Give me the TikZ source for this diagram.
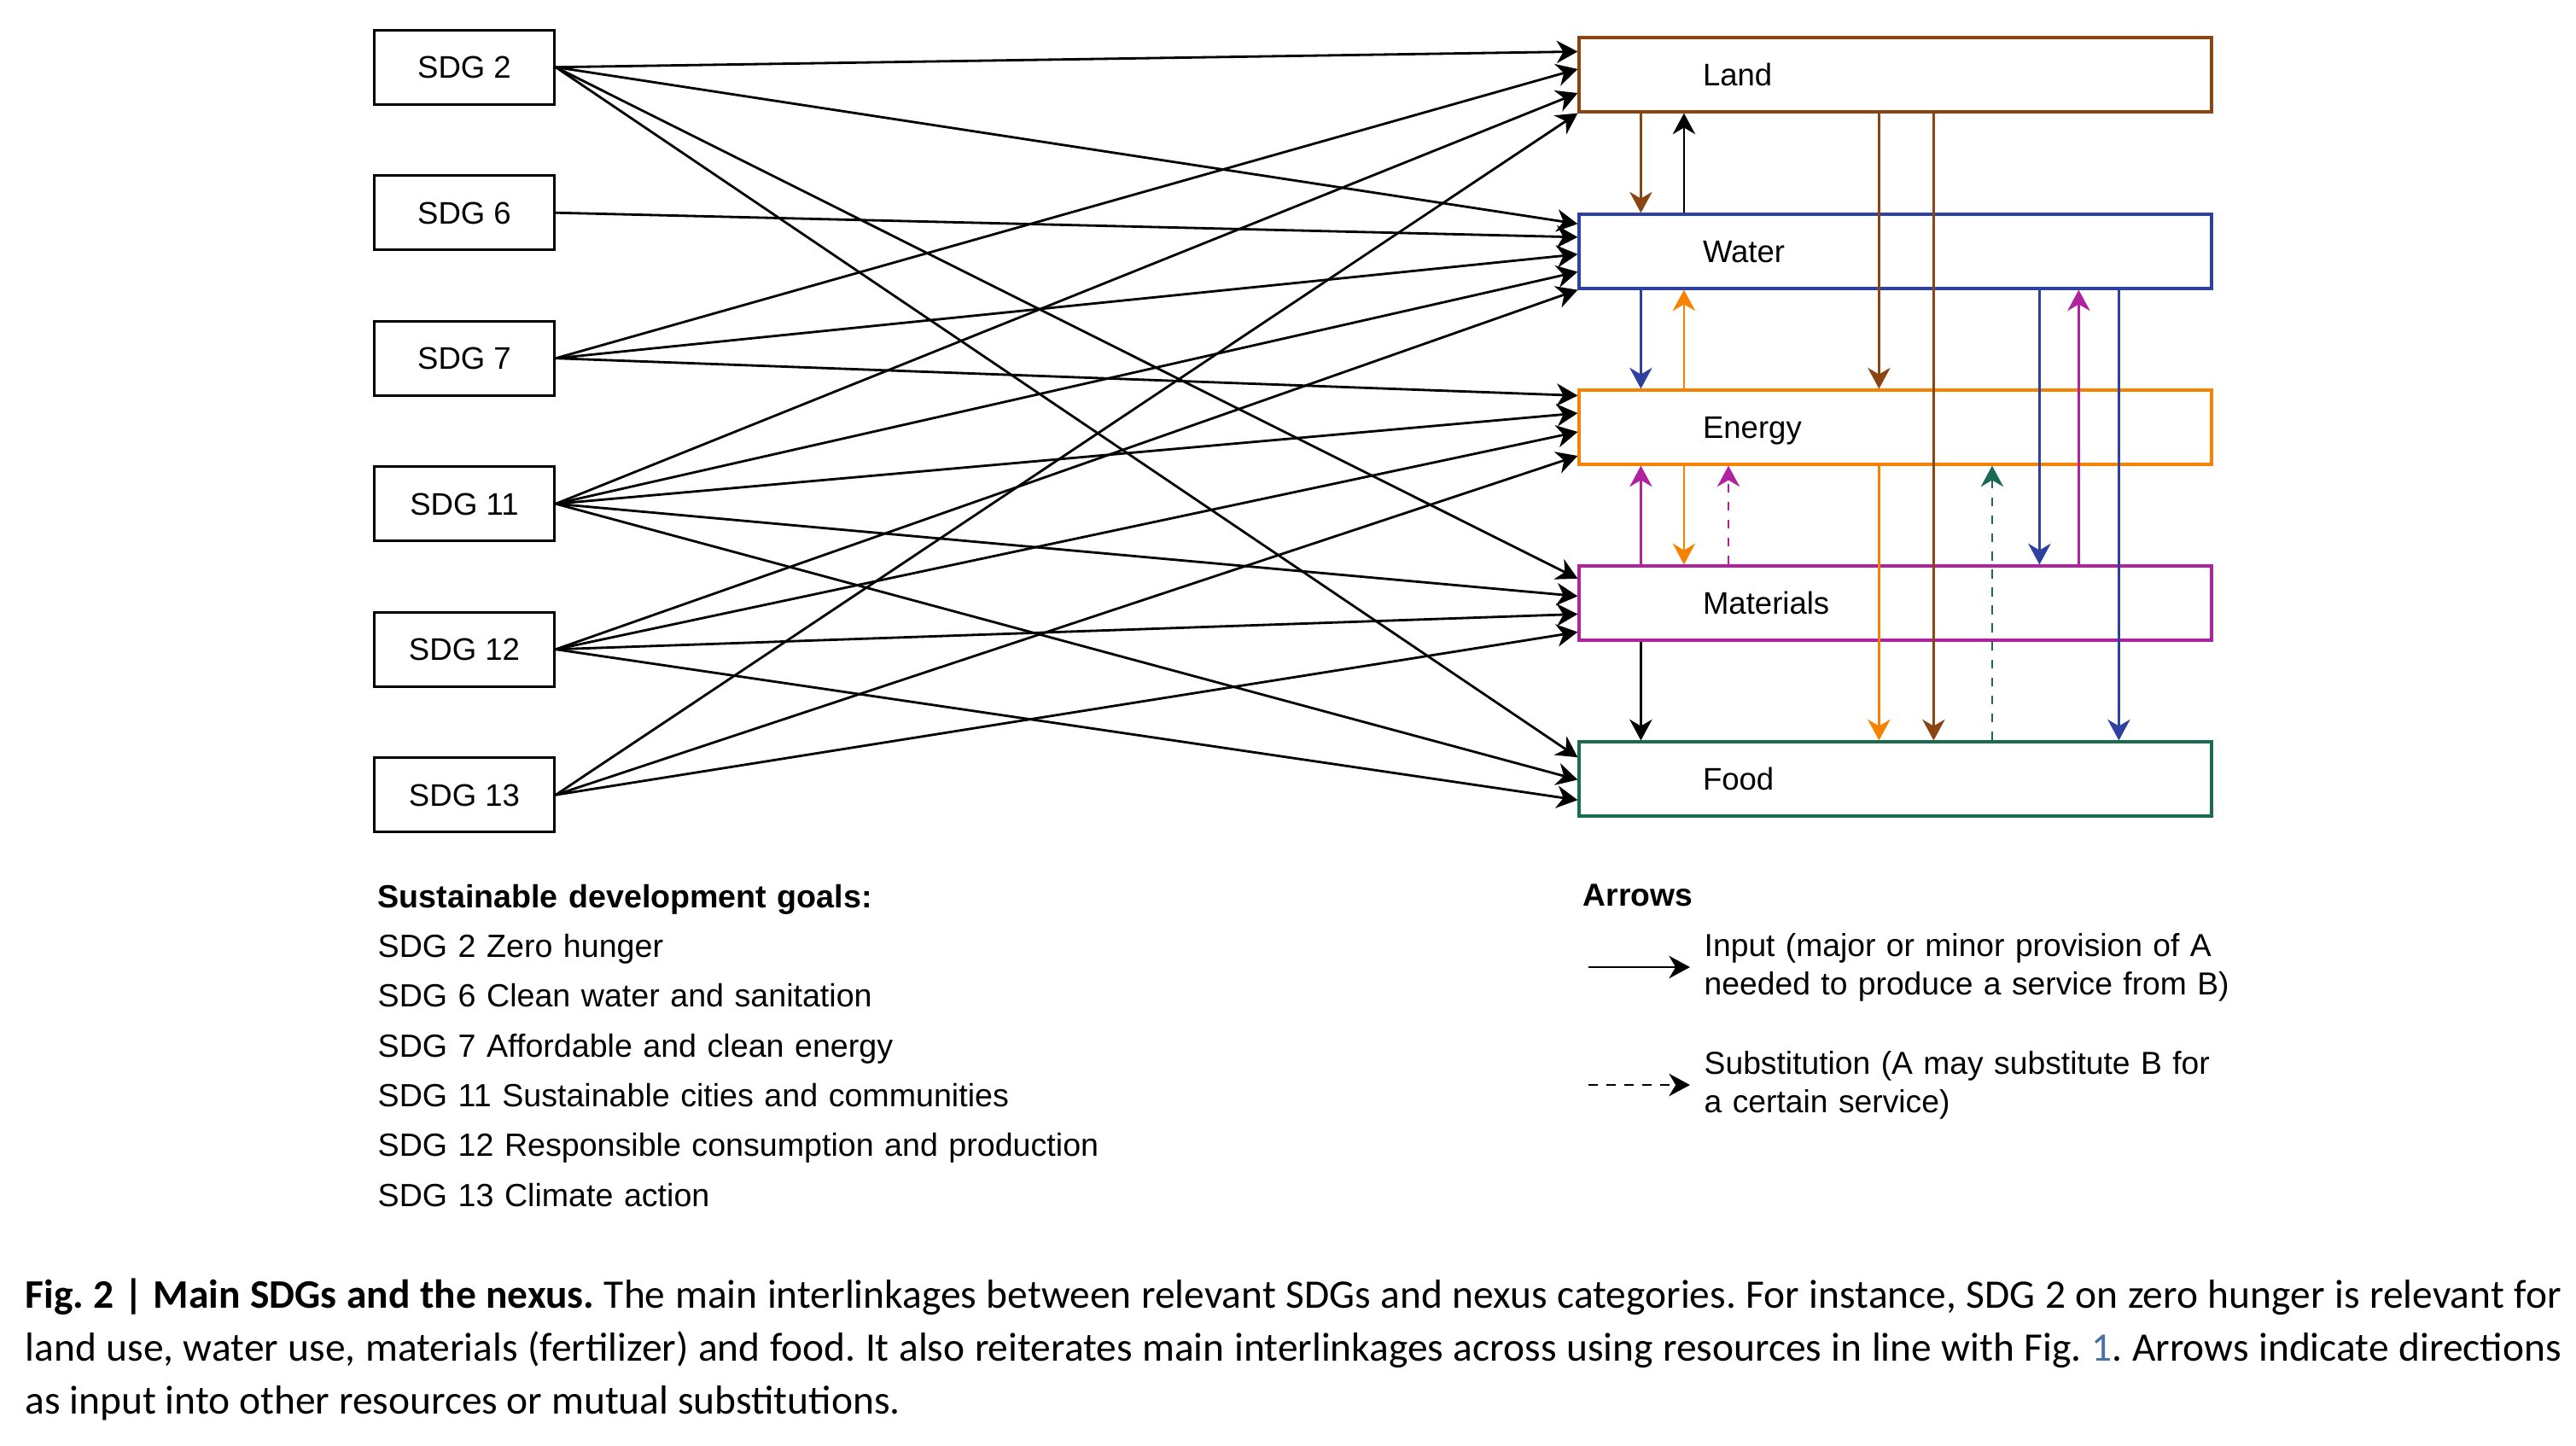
\documentclass[tikz,border=0pt]{standalone}
\usepackage{fontspec}
\setmainfont{Liberation Sans}
\newfontfamily\capfont{Carlito}
\usepackage{tikz}
\usetikzlibrary{arrows.meta,calc}
\usetikzlibrary{positioning}

\definecolor{landc}{HTML}{8B4513}
\definecolor{waterc}{HTML}{2E40A0}
\definecolor{energyc}{HTML}{F58200}
\definecolor{matc}{HTML}{B0229E}
\definecolor{foodc}{HTML}{1A6B52}
\definecolor{figlink}{HTML}{4A6FA5}

\tikzset{
  sdgbox/.style={draw, line width=0.9pt, minimum width=2.11cm, minimum height=0.87cm,
    inner sep=0pt, text height=7.5pt, text depth=0pt},
  nexbox/.style={draw, line width=0.9pt, minimum height=0.87cm, text width=4.51cm,
    inner xsep=1.45cm, inner ysep=0pt, align=left, text height=7.5pt, text depth=0pt},
  link/.style={line width=0.8pt, -{Stealth[length=7pt,width=7.5pt,inset=2.2pt]}},
  subst/.style={link, dash pattern=on 3pt off 3pt},
}

\begin{document}
\frenchspacing
\begin{tikzpicture}[font=\fontsize{10.4}{12.5}\selectfont]
                \useasboundingbox (0,0) rectangle (30.18,-16.93);
                % SDG boxes
                \node[sdgbox] (sdg2) at (5.44,-0.787) {SDG 2};
                \node[sdgbox] (sdg6) at (5.44,-2.492) {SDG 6};
                \node[sdgbox] (sdg7) at (5.44,-4.197) {SDG 7};
                \node[sdgbox] (sdg11) at (5.44,-5.902) {SDG 11};
                \node[sdgbox] (sdg12) at (5.44,-7.607) {SDG 12};
                \node[sdgbox] (sdg13) at (5.44,-9.312) {SDG 13};
                % nexus boxes
                \node[nexbox, draw=landc] (land) at (22.205,-0.875) {Land};
                \node[nexbox, draw=waterc] (water) at (22.205,-2.945) {Water};
                \node[nexbox, draw=energyc] (energy) at (22.205,-5.005) {Energy};
                \node[nexbox, draw=matc] (materials) at (22.205,-7.065) {Materials};
                \node[nexbox, draw=foodc] (food) at (22.205,-9.125) {Food};
                % SDGs to nexus
                \draw[link] (sdg2.east) -- ([yshift=-0.18cm]land.north west);
                \draw[link] (sdg2.east) -- ([yshift=-0.128cm]water.north west);
                \draw[link] (sdg2.east) -- ([yshift=-0.164cm]materials.north west);
                \draw[link] (sdg2.east) -- ([yshift=-0.198cm]food.north west);
                \draw[link] (sdg6.east) -- ([yshift=-0.284cm]water.north west);
                \draw[link] (sdg7.east) -- ([yshift=-0.385cm]land.north west);
                \draw[link] (sdg7.east) -- ([yshift=-0.484cm]water.north west);
                \draw[link] (sdg7.east) -- ([yshift=-0.08cm]energy.north west);
                \draw[link] (sdg11.east) -- ([yshift=-0.666cm]land.north west);
                \draw[link] (sdg11.east) -- ([yshift=-0.69cm]water.north west);
                \draw[link] (sdg11.east) -- ([yshift=-0.286cm]energy.north west);
                \draw[link] (sdg11.east) -- ([yshift=-0.37cm]materials.north west);
                \draw[link] (sdg11.east) -- ([yshift=-0.46cm]food.north west);
                \draw[link] (sdg12.east) -- (water.south west);
                \draw[link] (sdg12.east) -- ([yshift=-0.505cm]energy.north west);
                \draw[link] (sdg12.east) -- ([yshift=-0.58cm]materials.north west);
                \draw[link] (sdg12.east) -- ([yshift=-0.698cm]food.north west);
                \draw[link] (sdg13.east) -- (land.south west);
                \draw[link] (sdg13.east) -- ([yshift=-0.786cm]energy.north west);
                \draw[link] (sdg13.east) -- ([yshift=-0.79cm]materials.north west);
                % links inside the nexus
                \draw[link, landc] ([xshift=0.74cm]land.south west) -- ([xshift=0.74cm]water.north west);
                \draw[link] ([xshift=1.245cm]water.north west) -- ([xshift=1.245cm]land.south west);
                \draw[link, landc] ([xshift=3.53cm]land.south west) -- ([xshift=3.53cm]energy.north west);
                \draw[link, landc] ([xshift=4.17cm]land.south west) -- ([xshift=4.17cm]food.north west);
                \draw[link, waterc] ([xshift=0.74cm]water.south west) -- ([xshift=0.74cm]energy.north west);
                \draw[link, energyc] ([xshift=1.245cm]energy.north west) -- ([xshift=1.245cm]water.south west);
                \draw[link, waterc] ([xshift=5.41cm]water.south west) -- ([xshift=5.41cm]materials.north west);
                \draw[link, matc] ([xshift=5.87cm]materials.north west) -- ([xshift=5.87cm]water.south west);
                \draw[link, waterc] ([xshift=6.34cm]water.south west) -- ([xshift=6.34cm]food.north west);
                \draw[link, matc] ([xshift=0.74cm]materials.north west) -- ([xshift=0.74cm]energy.south west);
                \draw[link, energyc] ([xshift=1.245cm]energy.south west) -- ([xshift=1.245cm]materials.north west);
                \draw[subst, matc] ([xshift=1.766cm]materials.north west) -- ([xshift=1.766cm]energy.south west);
                \draw[link, energyc] ([xshift=3.53cm]energy.south west) -- ([xshift=3.53cm]food.north west);
                \draw[subst, foodc] ([xshift=4.855cm]food.north west) -- ([xshift=4.855cm]energy.south west);
                \draw[link] ([xshift=0.74cm]materials.south west) -- ([xshift=0.74cm]food.north west);
                % legend
                \node[anchor=base west, inner sep=0pt, text width=11cm, align=left,
                  font=\fontsize{10.7}{16.6}\selectfont] (goals) at (4.42,-10.63)
                  {\textbf{Sustainable development goals:}\\
                   SDG 2 Zero hunger\\
                   SDG 6 Clean water and sanitation\\
                   SDG 7 Affordable and clean energy\\
                   SDG 11 Sustainable cities and communities\\
                   SDG 12 Responsible consumption and production\\
                   SDG 13 Climate action};
                \node[anchor=base west, inner sep=0pt, font=\fontsize{10.6}{12.8}\selectfont\bfseries] (arrowshead) at (18.54,-10.61) {Arrows};
                \coordinate (inA) at (18.61,-11.33);
                \coordinate (inB) at (19.80,-11.33);
                \draw[link] (inA) -- (inB);
                \node[anchor=base west, inner sep=0pt, text width=7cm, align=left,
                  font=\fontsize{10.6}{12.8}\selectfont] (inputtxt) at (19.96,-11.20)
                  {Input (major or minor provision of A\\needed to produce a service from B)};
                \coordinate (subA) at (18.61,-12.71);
                \coordinate (subB) at (19.80,-12.71);
                \draw[subst] (subA) -- (subB);
                \node[anchor=base west, inner sep=0pt, text width=7cm, align=left,
                  font=\fontsize{10.6}{12.8}\selectfont] (substtxt) at (19.96,-12.58)
                  {Substitution (A may substitute B for\\a certain service)};
                % caption
                \node[anchor=base west, inner sep=0pt, font=\capfont\fontsize{13.5}{16}\selectfont] (cap1) at (0.29,-15.32)
                  {\makebox[29.71cm][s]{\textbf{Fig. 2 | Main SDGs and the nexus.} The main interlinkages between relevant SDGs and nexus categories. For instance, SDG 2 on zero hunger is relevant for}};
                \node[anchor=base west, inner sep=0pt, font=\capfont\fontsize{13.5}{16}\selectfont] (cap2) at (0.29,-15.94)
                  {\makebox[29.71cm][s]{land use, water use, materials (fertilizer) and food. It also reiterates main interlinkages across using resources in line with Fig.~\textcolor{figlink}{1}. Arrows indicate directions}};
                \node[anchor=base west, inner sep=0pt, font=\capfont\fontsize{13.5}{16}\selectfont] (cap3) at (0.29,-16.56)
                  {as input into other resources or mutual substitutions.};
\end{tikzpicture}
\end{document}
